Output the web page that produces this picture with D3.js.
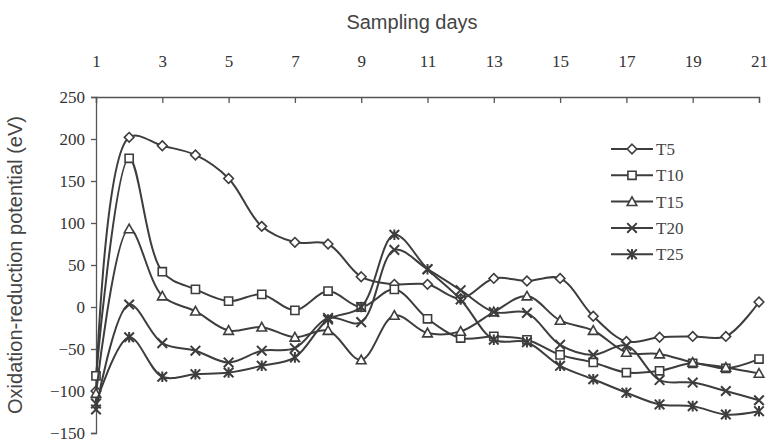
<!DOCTYPE html>
<html>
<head>
<meta charset="utf-8">
<script src="https://cdn.jsdelivr.net/npm/d3@7"></script>
<style>
  body { margin: 0; background: #fff; }
  svg { display: block; }
</style>
</head>
<body>
<div id="chart"></div>
<script>
// sampling days and measured ORP per treatment
const days = d3.range(1, 22);
const dayTicks = [1, 3, 5, 7, 9, 11, 13, 15, 17, 19, 21];
const yTicks = [-150, -100, -50, 0, 50, 100, 150, 200, 250];
const seriesNames = ["T5", "T10", "T15", "T20", "T25"];

const t5  = [-100, 202, 192, 181, 153, 96, 77, 75, 36, 27, 27, 10, 34, 31, 34, -11, -41, -36, -35, -35, 6];
const t10 = [-82, 177, 42, 21, 7, 15, -4, 19, 0, 21, -14, -37, -35, -39, -57, -66, -78, -76, -67, -73, -62];
const t15 = [-103, 93, 13, -5, -28, -24, -36, -28, -63, -10, -31, -29, -6, 13, -16, -28, -54, -56, -66, -72, -79];
const t20 = [-122, 3, -43, -52, -66, -52, -49, -13, -18, 68, 45, 20, -6, -7, -45, -57, -46, -87, -90, -100, -111];
const t25 = [-115, -36, -83, -80, -78, -70, -60, -15, 0, 86, 45, 9, -39, -42, -70, -86, -102, -116, -118, -128, -124];

const values = [t5, t10, t15, t20, t25];

const W = 769, H = 444;
const margin = { top: 97, right: 10, bottom: 11, left: 96 };
const ink = "#3d3d3d";

const svg = d3.select("#chart").append("svg")
    .attr("width", W)
    .attr("height", H);

const x = d3.scaleLinear()
    .domain([1, 21])
    .range([margin.left, 759]);

const y = d3.scaleLinear()
    .domain([-150, 250])
    .range([H - margin.bottom, margin.top]);

// top axis with ticks pointing down into the plot
const xAxis = svg.append("g")
    .attr("transform", `translate(0,${y(250)})`)
    .call(d3.axisTop(x).tickValues(dayTicks).tickSize(-6).tickPadding(30));
xAxis.select(".domain").attr("stroke", "#555").attr("stroke-width", 1.3);
xAxis.selectAll(".tick line").attr("stroke", "#555").attr("stroke-width", 1.3);
xAxis.selectAll("text")
    .attr("fill", "#333")
    .attr("font-family", "Liberation Serif, Times New Roman, serif")
    .attr("font-size", "17px");

const yAxis = svg.append("g")
    .attr("transform", `translate(${x(1)},0)`)
    .call(d3.axisLeft(y).tickValues(yTicks).tickSize(5).tickPadding(6));
yAxis.select(".domain").attr("stroke", "#555").attr("stroke-width", 1.3);
yAxis.selectAll(".tick line").attr("stroke", "#555").attr("stroke-width", 1.3);
yAxis.selectAll("text")
    .attr("fill", "#333")
    .attr("font-family", "Liberation Serif, Times New Roman, serif")
    .attr("font-size", "17px");

// titles
svg.append("text")
    .attr("x", 412)
    .attr("y", 29)
    .attr("text-anchor", "middle")
    .attr("fill", "#444")
    .attr("font-family", "Liberation Sans, Arial, sans-serif")
    .attr("font-size", "20px")
    .text("Sampling days");

svg.append("text")
    .attr("transform", `translate(22,${(y(250) + y(-150)) / 2}) rotate(-90)`)
    .attr("text-anchor", "middle")
    .attr("fill", "#444")
    .attr("font-family", "Liberation Sans, Arial, sans-serif")
    .attr("font-size", "20px")
    .text("Oxidation-reduction potential (eV)");

// marker shapes
const sz = 4.8;
const markers = [
    r => `M0,${-r}L${r},0L0,${r}L${-r},0Z`,
    r => `M${-r * 0.85},${-r * 0.85}H${r * 0.85}V${r * 0.85}H${-r * 0.85}Z`,
    r => `M0,${-r}L${r},${r * 0.8}H${-r}Z`,
    r => `M${-r},${-r}L${r},${r}M${r},${-r}L${-r},${r}`,
    r => `M${-r},${-r}L${r},${r}M${r},${-r}L${-r},${r}M0,${-r * 1.1}V${r * 1.1}`
];

const line = d3.line()
    .x((d, i) => x(days[i]))
    .y(d => y(d))
    .curve(d3.curveCatmullRom.alpha(0.5));

values.forEach((vals, s) => {
    const g = svg.append("g");
    g.append("path")
        .attr("d", line(vals))
        .attr("fill", "none")
        .attr("stroke", ink)
        .attr("stroke-width", 2);

    g.selectAll("path.m")
        .data(vals)
        .join("path")
        .attr("class", "m")
        .attr("transform", (d, i) => `translate(${x(days[i])},${y(d)})`)
        .attr("d", markers[s](sz))
        .attr("fill", s < 3 ? "#fff" : "none")
        .attr("stroke", ink)
        .attr("stroke-width", s < 3 ? 1.6 : 2);
});

// legend
const legend = svg.append("g").attr("transform", "translate(611,149)");
seriesNames.forEach((name, i) => {
    const row = legend.append("g").attr("transform", `translate(0,${i * 26.3})`);
    row.append("line")
        .attr("x1", 0).attr("x2", 42)
        .attr("stroke", ink).attr("stroke-width", 2);
    row.append("path")
        .attr("transform", "translate(21,0)")
        .attr("d", markers[i](sz))
        .attr("fill", i < 3 ? "#fff" : "none")
        .attr("stroke", ink)
        .attr("stroke-width", i < 3 ? 1.6 : 2);
    row.append("text")
        .attr("x", 45)
        .attr("y", 6)
        .attr("fill", "#444")
        .attr("font-family", "Liberation Serif, Times New Roman, serif")
        .attr("font-size", "17px")
        .text(name);
});
</script>
</body>
</html>
